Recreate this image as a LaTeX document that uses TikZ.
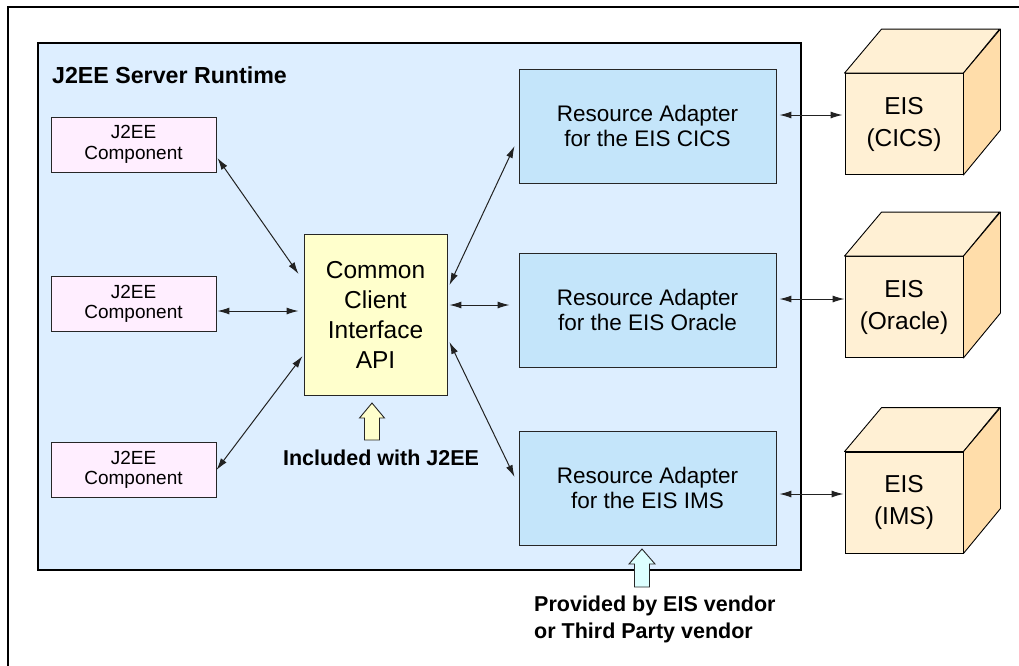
\documentclass[tikz,border=0pt]{standalone}
\usepackage{fontspec}
\setmainfont{Liberation Sans}
\usetikzlibrary{arrows.meta,calc}
\definecolor{rtbg}{HTML}{DDEEFF}
\definecolor{compbg}{HTML}{FFEEFF}
\definecolor{ccibg}{HTML}{FFFFCC}
\definecolor{rabg}{HTML}{C4E5FA}
\definecolor{eisfront}{HTML}{FFF0D4}
\definecolor{eisside}{HTML}{FFDDAA}
\definecolor{cyanarr}{HTML}{DDFFFF}
\definecolor{linegray}{HTML}{222222}
\begin{document}
\begin{tikzpicture}[x=1pt,y=-1pt,
  box/.style={draw=black!85, line width=0.9pt, inner sep=0pt, align=center},
  compbox/.style={box, fill=compbg, minimum width=165pt, minimum height=55pt,
    font=\fontsize{19}{20.5}\selectfont},
  ccibox/.style={box, fill=ccibg, minimum width=143pt, minimum height=161pt,
    font=\fontsize{24.5}{30}\selectfont},
  rabox/.style={box, fill=rabg, minimum width=257pt, minimum height=114pt,
    font=\fontsize{22.5}{25}\selectfont},
  eisbox/.style={box, draw=black, fill=eisfront, minimum width=118pt, minimum height=101pt,
    font=\fontsize{24.5}{32}\selectfont},
  face/.style={draw=black, line width=0.9pt, line join=round},
  conn/.style={draw=linegray, line width=1pt, {Latex[length=12pt,width=7pt]}-{Latex[length=12pt,width=7pt]}},
  boldlbl/.style={inner sep=0pt, font=\bfseries\fontsize{21.5}{27}\selectfont},
  hollow/.style={draw=black!85, line width=0.9pt, line join=miter}
]
\useasboundingbox (0,0) rectangle (1019,665);
\fill[white] (0,0) rectangle (1019,665);
% outer frame
\draw[line width=1.3pt] (8,680) -- (8,7) -- (1030,7);
% runtime
\node[draw=black, line width=2pt, fill=rtbg, minimum width=763pt, minimum height=527pt, inner sep=0pt] (rt) at (419.5,306.5) {};
\node[boldlbl, anchor=west, font=\bfseries\fontsize{23.2}{27}\selectfont] (title) at (52,75) {J2EE Server Runtime};
% components
\node[compbox] (c1) at (133.5,144.5) {J2EE\\Component};
\node[compbox] (c2) at (133.5,304) {J2EE\\Component};
\node[compbox] (c3) at (133.5,470) {J2EE\\Component};
% CCI
\node[ccibox] (cci) at (375.5,314.5) {Common\\Client\\Interface\\API};
% resource adapters
\node[rabox] (ra1) at (647.5,126) {Resource Adapter\\for the EIS CICS};
\node[rabox] (ra2) at (647.5,310) {Resource Adapter\\for the EIS Oracle};
\node[rabox] (ra3) at (647.5,488) {Resource Adapter\\for the EIS IMS};
% EIS cubes
\foreach \n/\y/\t in {e1/124/{EIS\\(CICS)}, e2/307/{EIS\\(Oracle)}, e3/502.5/{EIS\\(IMS)}}{
  \node[eisbox] (\n) at (904,\y) {\t};
  \filldraw[face, fill=eisfront] (\n.north west) -- ++(37,-44) -- ++(118,0) -- (\n.north east) -- cycle;
  \filldraw[face, fill=eisside] (\n.north east) -- ++(37,-44) -- ++(0,101) -- (\n.south east) -- cycle;
}
% connectors
\draw[conn] ($(c1.east)+(1,13.5)$) -- ($(cci.west)+(-5,-40.5)$);
\draw[conn] ($(c2.east)+(1,7)$) -- ($(cci.west)+(-5,-3.5)$);
\draw[conn] ($(c3.east)+(0,0)$) -- ($(cci.west)+(-1,41.5)$);
\draw[conn] ($(cci.east)+(2,-29.5)$) -- ($(ra1.west)+(-4,20)$);
\draw[conn] ($(cci.east)+(2,-9.5)$) -- ($(ra2.west)+(-9,-5)$);
\draw[conn] ($(cci.east)+(2,27.5)$) -- ($(ra3.west)+(-4,-11)$);
\draw[conn] ($(ra1.east)+(3,-11)$) -- ($(e1.west)+(-2,-9)$);
\draw[conn] ($(ra2.east)+(3,-11)$) -- ($(e2.west)+(0,-8)$);
\draw[conn] ($(ra3.east)+(3,6)$) -- ($(e3.west)+(-1,-8.5)$);
% hollow arrows
\filldraw[hollow, fill=ccibg] (372,403) -- (384.5,418) -- (379.5,418) -- (379.5,440) -- (364.5,440) -- (364.5,418) -- (359.5,418) -- cycle;
\node[boldlbl] (incl) at (381,458) {Included with J2EE};
\filldraw[hollow, fill=cyanarr] (642,549) -- (655,564) -- (649.5,564) -- (649.5,587) -- (634.5,587) -- (634.5,564) -- (629,564) -- cycle;
\node[boldlbl, align=left, anchor=north west] (prov) at (534,596) {Provided by EIS vendor\\or Third Party vendor};
\end{tikzpicture}
\end{document}
